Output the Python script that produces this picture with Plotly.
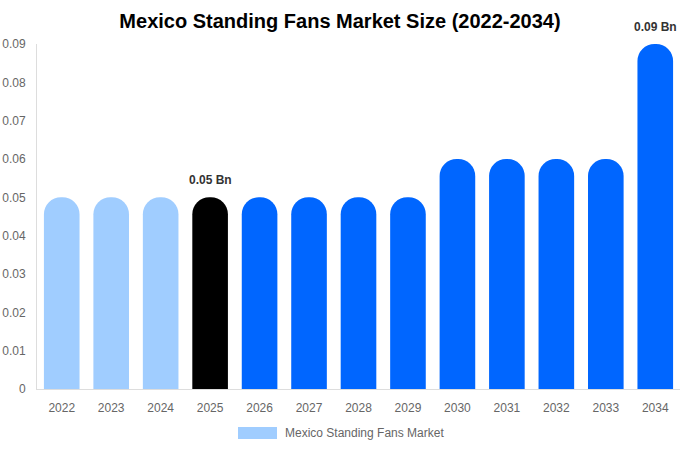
import plotly.graph_objects as go

years = ["2022", "2023", "2024", "2025", "2026", "2027", "2028", "2029",
         "2030", "2031", "2032", "2033", "2034"]
values = [0.05, 0.05, 0.05, 0.05, 0.05, 0.05, 0.05, 0.05,
          0.06, 0.06, 0.06, 0.06, 0.09]
labels = ["", "", "", "0.05 Bn", "", "", "", "", "", "", "", "", "0.09 Bn"]
colors = ["#a0cdff"] * 3 + ["#000000"] + ["#0066ff"] * 9
series_name = "Mexico Standing Fans Market"

FONT = "Liberation Sans, Arial"

W, H = 680, 450
L, R, T, B = 37, 0, 44, 61
PW, PH = W - L - R, H - T - B

fig = go.Figure()
fig.add_trace(go.Bar(
    x=years, y=values, name=series_name,
    marker=dict(color=colors, line=dict(width=0)),
    showlegend=False,
))

# value labels: category axis positions are serial indices of the categories
for idx, (v, lab) in enumerate(zip(values, labels)):
    if lab:
        fig.add_annotation(x=idx, y=v, xref="x", yref="y", text="<b>%s</b>" % lab,
                           showarrow=False, yanchor="bottom", yshift=8,
                           font=dict(family=FONT, size=12, color="#333333"))

def px_x(p):
    return (p - L) / PW

def px_y(p):
    return (H - B - p) / PH

fig.add_shape(type="rect", xref="paper", yref="paper",
              x0=px_x(238), x1=px_x(277), y0=px_y(439), y1=px_y(427),
              fillcolor="#a0cdff", line=dict(width=0))
fig.add_annotation(text=series_name, xref="paper", yref="paper",
                   x=px_x(283), y=px_y(433), xanchor="left", yanchor="middle",
                   showarrow=False, font=dict(family=FONT, size=12, color="#666666"))

fig.update_layout(
    width=W, height=H,
    margin=dict(l=L, r=R, t=T, b=B, autoexpand=False),
    paper_bgcolor="white", plot_bgcolor="white",
    font=dict(family=FONT, size=12, color="#666666"),
    title=dict(text="<b>Mexico Standing Fans Market Size (2022-2034)</b>",
               x=0.5, xanchor="center", y=1 - 21 / H, yanchor="middle",
               font=dict(size=20, color="#000000")),
    bargap=0.28,
    barcornerradius="50%",
    showlegend=False,
    xaxis=dict(type="category", showgrid=False, showline=True, linecolor="#dddddd",
               ticks="", automargin=False, ticklabelstandoff=8,
               tickfont=dict(size=12, color="#666666")),
    yaxis=dict(range=[0, 0.09], dtick=0.01, showgrid=False, showline=True,
               linecolor="#dddddd", zeroline=False, ticks="",
               automargin=False, ticklabelstandoff=8,
               tickfont=dict(size=12, color="#666666"), tickformat=".2~f"),
)
fig.write_html("out.html", config={"displayModeBar": False},
               post_script="document.body.style.margin='0';")
